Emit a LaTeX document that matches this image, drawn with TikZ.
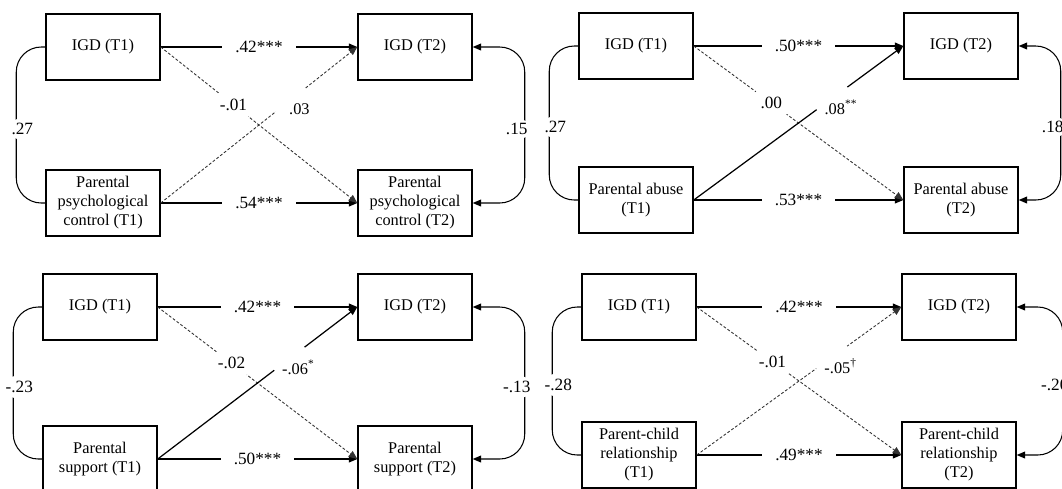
\documentclass[tikz,border=0pt]{standalone}
\usepackage{fontspec}
\setmainfont{Liberation Serif}
\usetikzlibrary{arrows.meta}

\begin{document}
\begin{tikzpicture}[x=0.02cm,y=-0.02cm,font=\fontsize{9.3}{10.8}\selectfont,
  >={Triangle[length=0.17cm,width=0.14cm]},
  box/.style={draw,line width=0.85pt,minimum width=2.28cm,minimum height=1.32cm,align=center,inner sep=2pt},
  arr/.style={->,line width=0.6pt},
  dl/.style={dash pattern=on 1.6pt off 1.1pt,line width=0.5pt,black!80},
  sl/.style={line width=0.7pt},
  lab/.style={fill=white,text=black,font=\fontsize{9.8}{11}\selectfont,inner xsep=0.26cm,inner ysep=1pt},
  clab/.style={lab,inner xsep=0.2cm,inner ysep=0.12cm},
  gap/.style={fill=white,text=black,font=\fontsize{9.8}{11}\selectfont,circle,inner sep=0pt,minimum size=0.76cm}]
  \useasboundingbox (0,0) rectangle (1062,488);
  \clip (0,0) rectangle (1062,488);
  % one cross-lagged panel per entry
  \foreach \i/\xa/\xb/\ya/\yb/\rr/\ta/\tb/\lh/\lb/\lx/\ly/\st/\lc/\rc in {
    1/103/415/47/203/52/{Parental\\psychological\\control (T1)}/{Parental\\psychological\\control (T2)}/.42***/.54***/-.01/.03/dl/.27/.15,
    2/636/961/46/200/42/{Parental abuse\\(T1)}/{Parental abuse\\(T2)}/.50***/.53***/.00/{.08\textsuperscript{**}}/sl/.27/.18,
    3/100/415/307/459/52/{Parental\\support (T1)}/{Parental\\support (T2)}/.42***/.50***/-.02/{-.06\textsuperscript{*}}/sl/-.23/-.13,
    4/639/959/307/455/46/{Parent-child\\relationship\\(T1)}/{Parent-child\\relationship\\(T2)}/.42***/.49***/-.01/{-.05\textsuperscript{\textdagger}}/dl/-.28/-.20}{
    \node[box] (a\i) at (\xa,\ya) {IGD (T1)};
    \node[box] (b\i) at (\xb,\ya) {IGD (T2)};
    \node[box] (c\i) at (\xa,\yb) {\ta};
    \node[box] (d\i) at (\xb,\yb) {\tb};
    \draw[arr] (a\i) -- node[lab]{\lh} (b\i);
    \draw[arr] (c\i) -- node[lab]{\lb} (d\i);
    \draw[arr,dl] (a\i.east) -- node[gap,pos=.37]{\lx} (d\i.west);
    \draw[arr,\st] (c\i.east) -- node[gap,pos=.66,label={[text=black,xshift=0.18cm,yshift=-0.18cm]center:\ly}]{} (b\i.west);
    \draw[line width=0.6pt,rounded corners=0.5cm] (a\i.west) -- ++(-29,0)
       |- node[clab,pos=.25,xshift=0.12cm,yshift=-0.08cm]{\lc} (c\i.west);
    \draw[arr,<->,rounded corners=0.5cm] (b\i.east) -- ++(\rr,0)
       |- node[clab,pos=.25,xshift=-0.16cm,yshift=-0.08cm]{\rc} (d\i.east);
  }
\end{tikzpicture}
\end{document}
